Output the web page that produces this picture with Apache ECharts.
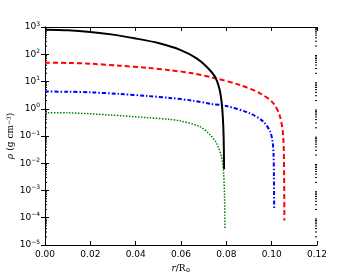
<!DOCTYPE html>
<html><head><meta charset="utf-8">
<script src="https://cdn.jsdelivr.net/npm/echarts@6/dist/echarts.min.js"></script>
<style>html,body{margin:0;padding:0;background:#fff}#c{width:352px;height:278px}</style>
</head><body><div id="c"></div>
<script>
// Radius r/R_sun and density rho (g cm^-3) for the four profiles
const rBlack   = [0, 0.01, 0.02, 0.03, 0.04, 0.05, 0.0596, 0.0669, 0.0713, 0.075, 0.0769, 0.0779, 0.0784, 0.0788, 0.079];
const rhoBlack = [794, 759, 661, 525, 380, 257, 145, 71, 35, 15, 5.6, 1.8, 0.59, 0.1, 0.006];

const rRed   = [0, 0.01, 0.02, 0.033, 0.045, 0.055, 0.065, 0.0742, 0.086, 0.0948, 0.1007, 0.1037, 0.1051, 0.1055, 0.1056];
const rhoRed = [49, 48, 45, 38, 32, 26, 20, 13.8, 7.4, 3.7, 1.6, 0.51, 0.093, 0.0032, 0.00008];

const rBlue   = [0, 0.01, 0.02, 0.033, 0.045, 0.055, 0.065, 0.0735, 0.08, 0.0904, 0.0963, 0.0993, 0.1003, 0.1008, 0.101, 0.1011];
const rhoBlue = [4.3, 4.2, 4.0, 3.5, 2.95, 2.5, 2.0, 1.5, 1.26, 0.68, 0.34, 0.145, 0.071, 0.025, 0.0032, 0.0002];

const rGreen   = [0, 0.01, 0.0287, 0.045, 0.055, 0.0596, 0.0684, 0.0728, 0.0757, 0.0779, 0.0787, 0.0792, 0.0794];
const rhoGreen = [0.72, 0.71, 0.59, 0.47, 0.41, 0.36, 0.22, 0.11, 0.054, 0.017, 0.0056, 0.00063, 0.000038];

const xMin = 0, xMax = 0.12, xStep = 0.02;
const yMin = 1e-5, yMax = 1e3;

const pairs = (xs, ys) => xs.map((x, i) => [x, ys[i]]);
const font = 'DejaVu Sans';
const chart = echarts.init(document.getElementById('c'), null, {renderer: 'canvas'});

const axLine = {show: true, lineStyle: {color: '#000', width: 1}};
const baseX = {
  type: 'value', min: xMin, max: xMax, interval: xStep,
  axisLine: axLine, splitLine: {show: false},
  axisTick: {show: true, inside: true, length: 4, lineStyle: {color: '#000'}}
};
const baseY = {
  type: 'log', logBase: 10, min: yMin, max: yMax, splitNumber: 8,
  axisLine: axLine, splitLine: {show: false},
  axisTick: {show: true, inside: true, length: 4, lineStyle: {color: '#000'}}
};
const lineCommon = {type: 'line', showSymbol: false, smooth: 0.3};

chart.setOption({
  animation: false,
  grid: {left: 45, right: 35, top: 27, bottom: 33, show: false, containLabel: false, outerBoundsMode: 'none'},
  xAxis: [
    Object.assign({}, baseX, {
      position: 'bottom',
      axisLabel: {fontFamily: font, fontSize: 9, color: '#000', margin: 5,
        formatter: v => v.toFixed(2)},
      name: '{i|r}{n|/R}{s|⊙}', nameLocation: 'middle', nameGap: 18,
      nameTextStyle: {rich: {
        i: {fontFamily: 'DejaVu Serif', fontStyle: 'italic', fontSize: 9, color: '#000'},
        n: {fontFamily: 'DejaVu Serif', fontSize: 9, color: '#000'},
        s: {fontFamily: 'DejaVu Serif', fontSize: 6, color: '#000', verticalAlign: 'bottom', padding: [4, 0, 0, 0]}
      }}
    }),
    Object.assign({}, baseX, {position: 'top', axisLabel: {show: false}})
  ],
  yAxis: [
    Object.assign({}, baseY, {
      position: 'left',
      axisLabel: {margin: 5, color: '#000',
        formatter: v => '{b|10}{s|' + String(Math.round(Math.log10(v))).replace('-', '−') + '}',
        rich: {
          b: {fontFamily: font, fontSize: 9, color: '#000'},
          s: {fontFamily: font, fontSize: 6, color: '#000', verticalAlign: 'bottom', padding: [0, 0, 6, 0]}
        }},
      name: '{i|ρ} {n|(g cm}{s|−3}{n|)}', nameLocation: 'middle', nameGap: 28, nameRotate: 90,
      nameMoveOverlap: false,
      nameTextStyle: {rich: {
        i: {fontFamily: 'DejaVu Serif', fontStyle: 'italic', fontSize: 9, color: '#000'},
        n: {fontFamily: 'DejaVu Serif', fontSize: 9, color: '#000'},
        s: {fontFamily: 'DejaVu Serif', fontSize: 6, color: '#000', verticalAlign: 'bottom', padding: [0, 0, 5, 0]}
      }}
    }),
    Object.assign({}, baseY, {position: 'right', axisLabel: {show: false}})
  ],
  series: [
    Object.assign({}, lineCommon, {name: 'black', data: pairs(rBlack, rhoBlack),
      lineStyle: {color: '#000000', width: 2, type: 'solid'}, z: 5}),
    Object.assign({}, lineCommon, {name: 'red', data: pairs(rRed, rhoRed),
      lineStyle: {color: '#ff0000', width: 2, type: [5, 3]}, z: 4}),
    Object.assign({}, lineCommon, {name: 'blue', data: pairs(rBlue, rhoBlue),
      lineStyle: {color: '#0000ff', width: 2, type: [4, 2, 1.5, 2]}, z: 3}),
    Object.assign({}, lineCommon, {name: 'green', data: pairs(rGreen, rhoGreen),
      lineStyle: {color: '#008000', width: 1.5, type: [1.5, 1.5]}, z: 2})
  ]
});

// log minor ticks (2..9 x 10^n) on left and right axes, placed through the axis scale
const g = [];
const xl = chart.convertToPixel({xAxisIndex: 0}, xMin);
const xr = chart.convertToPixel({xAxisIndex: 0}, xMax);
for (let e = -5; e < 3; e++) {
  for (let m = 2; m <= 9; m++) {
    const y = chart.convertToPixel({yAxisIndex: 0}, m * Math.pow(10, e));
    g.push({type: 'line', shape: {x1: xl, y1: y, x2: xl + 2, y2: y}, style: {stroke: '#000', lineWidth: 1}, silent: true});
    g.push({type: 'line', shape: {x1: xr, y1: y, x2: xr - 2, y2: y}, style: {stroke: '#000', lineWidth: 1}, silent: true});
  }
}
chart.setOption({graphic: g});
</script></body></html>
